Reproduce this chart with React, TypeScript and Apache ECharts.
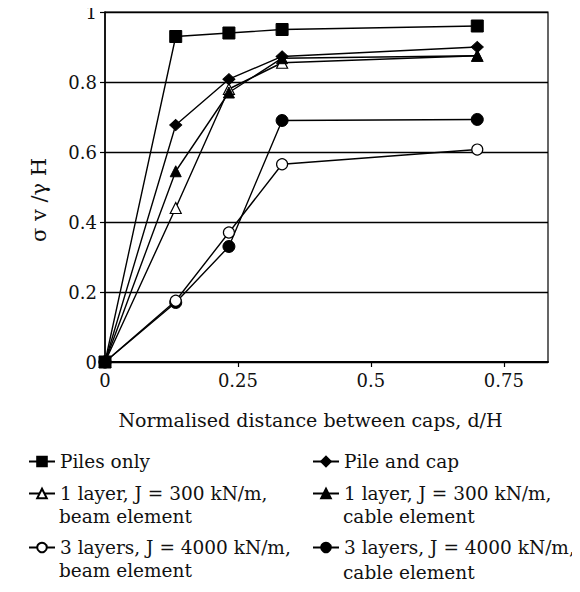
import React, { useEffect, useRef } from "react";
import * as echarts from "echarts";

const xValues = [0, 0.133, 0.233, 0.333, 0.7];
const pilesOnly = [0, 0.93, 0.94, 0.95, 0.96];
const pileAndCap = [0, 0.677, 0.808, 0.873, 0.9];
const beam1Layer = [0, 0.44, 0.78, 0.855, 0.875];
const cable1Layer = [0, 0.545, 0.77, 0.868, 0.875];
const beam3Layers = [0, 0.175, 0.37, 0.565, 0.607];
const cable3Layers = [0, 0.17, 0.33, 0.69, 0.693];
const yTicks = [0, 0.2, 0.4, 0.6, 0.8, 1];
const xTicks = [0, 0.25, 0.5, 0.75];

const SERIF = "DejaVu Serif";

const pair = (ys: number[]) => xValues.map((x, i) => [x, ys[i]]);

export default function App() {
  const ref = useRef<HTMLDivElement>(null);
  useEffect(() => {
    if (!ref.current) return;
    const chart = echarts.init(ref.current, undefined, { renderer: "svg" });
    const filled = { color: "#000", borderColor: "#000", borderWidth: 1 };
    const open = { color: "#fff", borderColor: "#000", borderWidth: 1.2 };
    const line = { color: "#000", width: 1.4 };
    const mk = (name: string, ys: number[], symbol: string, size: any, item: any) => ({
      name,
      type: "line",
      data: pair(ys),
      symbol,
      symbolSize: size,
      itemStyle: item,
      lineStyle: line,
      emphasis: { disabled: true },
    });
    const series = [
      mk("3 layers, J = 4000 kN/m, cable element", cable3Layers, "circle", 12, filled),
      mk("3 layers, J = 4000 kN/m, beam element", beam3Layers, "circle", 11, open),
      mk("1 layer, J = 300 kN/m, beam element", beam1Layer, "triangle", 11, open),
      mk("1 layer, J = 300 kN/m, cable element", cable1Layer, "triangle", 11, filled),
      mk("Pile and cap", pileAndCap, "diamond", [12, 11], filled),
      mk("Piles only", pilesOnly, "rect", 12, filled),
    ];
    const LF = 18.5;
    const legendText = { fontFamily: SERIF, fontSize: LF, color: "#111" };
    const firstLine = (n: string) => {
      const m = n.match(/^(.*?m,)\s(.*)$/);
      return m ? m[1] : n;
    };
    const mkLegend = (name: string, left: number, top: number) => ({
      data: [name],
      left,
      top,
      orient: "horizontal",
      padding: 0,
      itemWidth: 26,
      itemHeight: 12,
      itemGap: 5,
      selectedMode: false,
      textStyle: legendText,
      formatter: firstLine,
    });
    const sub = (text: string, x: number, y: number) => ({
      type: "text",
      x,
      y,
      style: { text, font: `${LF}px "${SERIF}"`, fill: "#111", verticalAlign: "middle" },
    });
    chart.setOption({
      animation: false,
      backgroundColor: "#fff",
      grid: {
        left: 105,
        right: 32,
        top: 12,
        bottom: 230,
        show: true,
        borderColor: "#000",
        borderWidth: 1.2,
        backgroundColor: "transparent",
        outerBoundsMode: "none",
      },
      xAxis: {
        type: "value",
        min: 0,
        max: 0.833,
        interval: 0.25,
        name: "Normalised distance between caps, d/H",
        nameLocation: "middle",
        nameGap: 48,
        nameTextStyle: { fontFamily: SERIF, fontSize: 19, color: "#111", padding: [0, 32, 0, 0] },
        axisLine: { show: true, lineStyle: { color: "#000", width: 2 } },
        axisTick: { show: true, inside: false, length: 5, lineStyle: { color: "#000", width: 1.2 } },
        axisLabel: {
          fontFamily: SERIF,
          fontSize: 18,
          color: "#111",
          margin: 9,
          showMaxLabel: false,
          formatter: (v: number) => (xTicks.includes(v) ? String(v) : ""),
        },
        splitLine: { show: false },
      },
      yAxis: {
        type: "value",
        min: 0,
        max: 1,
        interval: 0.2,
        axisLine: { show: true, lineStyle: { color: "#000", width: 1.5 } },
        axisTick: { show: true, inside: false, length: 5, lineStyle: { color: "#000", width: 1.2 } },
        axisLabel: {
          fontFamily: SERIF,
          fontSize: 18,
          color: "#111",
          margin: 8,
          formatter: (v: number) => {
            const t = yTicks.find((k) => Math.abs(k - v) < 1e-6);
            return t === undefined ? "" : String(t);
          },
        },
        splitLine: { show: true, lineStyle: { color: "#000", width: 1.3 } },
      },
      legend: [
        mkLegend("Piles only", 28, 452),
        mkLegend("Pile and cap", 312, 452),
        mkLegend("1 layer, J = 300 kN/m, beam element", 28, 484),
        mkLegend("1 layer, J = 300 kN/m, cable element", 312, 484),
        mkLegend("3 layers, J = 4000 kN/m, beam element", 28, 538),
        mkLegend("3 layers, J = 4000 kN/m, cable element", 312, 538),
      ],
      graphic: [
        {
          type: "text",
          x: 39,
          y: 200,
          rotation: Math.PI / 2,
          style: {
            text: "σ v /γ H",
            font: `21px "${SERIF}"`,
            fill: "#111",
            align: "center",
            verticalAlign: "middle",
          },
        },
        sub("beam element", 59, 516),
        sub("cable element", 343, 516),
        sub("beam element", 59, 570),
        sub("cable element", 343, 572),
      ],
      series,
    });
    return () => chart.dispose();
  }, []);
  return <div ref={ref} style={{ width: 580, height: 592, margin: -8 }} />;
}
